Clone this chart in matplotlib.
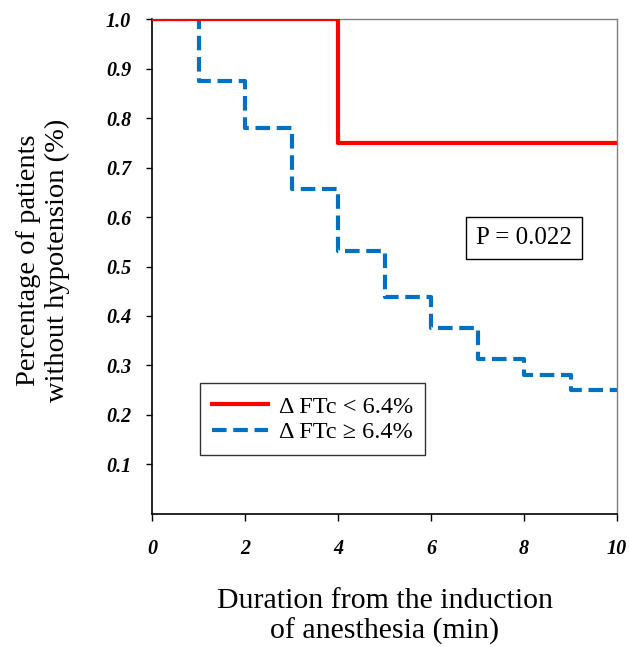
import matplotlib
matplotlib.use("Agg")
from matplotlib import pyplot as plt
import numpy as np

plt.rcParams['font.family'] = ['Liberation Serif', 'DejaVu Serif']

# survival steps (minutes from induction)
minutes = [0, 1, 2, 3, 4, 5, 6, 7, 8, 9, 10]
low_ftc = [1.0, 1.0, 1.0, 1.0, 0.75, 0.75, 0.75, 0.75, 0.75, 0.75, 0.75]
high_ftc = [1.0, 0.875, 0.78125, 0.65625, 0.53125, 0.4375, 0.375, 0.3125, 0.28125, 0.25, 0.25]
x_ticks = [0, 2, 4, 6, 8, 10]
y_ticks = [0.1, 0.2, 0.3, 0.4, 0.5, 0.6, 0.7, 0.8, 0.9, 1.0]
p_text = "P = 0.022"

fig = plt.figure(figsize=(6.29, 6.47), dpi=100)
ax = fig.add_axes([0.2417, 0.206, 0.7393, 0.764])

ax.step(minutes, high_ftc, where='post', color='#0070C0', lw=3,
        dashes=(3.5, 1.6), label='\u0394 FTc \u2265 6.4%', zorder=2)
ax.step(minutes, low_ftc, where='post', color='#FF0000', lw=3,
        label='\u0394 FTc < 6.4%', zorder=3)

ax.set_xlim(0, 10)
ax.set_ylim(0, 1.0)
ax.set_xticks(x_ticks)
ax.set_yticks(y_ticks)
ax.set_xticklabels([str(t) for t in x_ticks], fontsize=14.5, fontweight='bold', fontstyle='italic')
ax.set_yticklabels(['%.1f' % t for t in y_ticks], fontsize=14.5, fontweight='bold', fontstyle='italic')
ax.tick_params(axis='x', direction='out', length=5, width=1, pad=13)
ax.tick_params(axis='y', direction='out', length=4, width=1, pad=11)

for side in ['left', 'bottom']:
    ax.spines[side].set_color('black')
    ax.spines[side].set_linewidth(1.2)
for side in ['top', 'right']:
    ax.spines[side].set_color('#808080')
    ax.spines[side].set_linewidth(1.0)

ax.set_xlabel("Duration from the induction\nof anesthesia (min)", fontsize=21.5,
              linespacing=1.2)
ax.set_ylabel("Percentage of patients\nwithout hypotension (%)", fontsize=20.5,
              linespacing=1.2)
ax.xaxis.set_label_coords(0.5, -0.150)
ax.yaxis.set_label_coords(-0.176, 0.513)

handles, labels = ax.get_legend_handles_labels()
leg = ax.legend(handles[::-1], labels[::-1], loc='lower left',
                bbox_to_anchor=(0.103, 0.118), fontsize=17.5, frameon=True,
                fancybox=False, edgecolor='black', handlelength=2.3,
                borderpad=0.5, labelspacing=0.15, handletextpad=0.45,
                borderaxespad=0)
leg.get_frame().set_linewidth(1.0)

ax.text(0.8, 0.5587, p_text, transform=ax.transAxes, fontsize=18,
        ha='center', va='center',
        bbox=dict(boxstyle='square,pad=0.4', fc='white', ec='black', lw=1.0))

fig.savefig('out.png', dpi=100)
